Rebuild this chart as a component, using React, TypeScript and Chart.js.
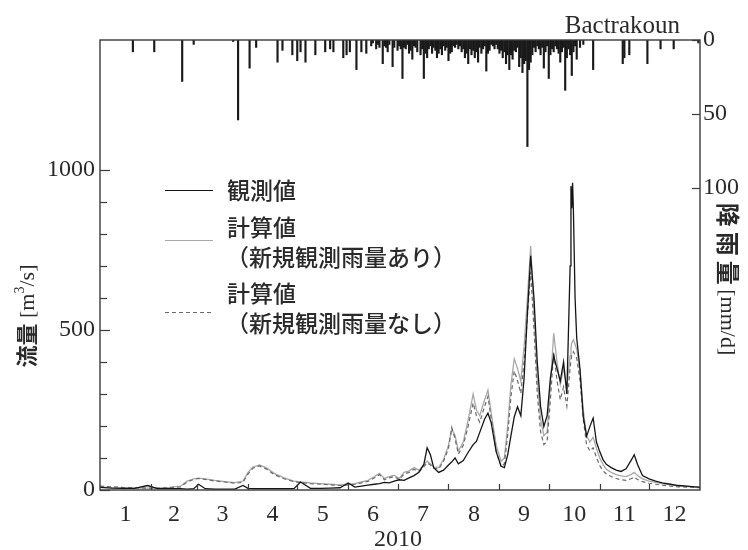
import React, { useEffect, useRef } from "react";
import { Chart, registerables } from "chart.js";

Chart.register(...registerables);

// ---- data ----
const monthLabels = ["1", "2", "3", "4", "5", "6", "7", "8", "9", "10", "11", "12"];
const monthStartDays = [0, 31, 59, 90, 120, 151, 181, 212, 243, 273, 304, 334, 365];
const monthMidDays = [15.5, 45, 74.5, 105, 135.5, 166, 196.5, 227.5, 258, 288.5, 319, 349.5];
const yearLabel = "2010";
const stationName = "Bactrakoun";

const flowTickValues = [0, 100, 200, 300, 400, 500, 600, 700, 800, 900, 1000];
const flowLabelValues = [0, 500, 1000];
const rainTickValues = [0, 50, 100];

const days = [
  0, 7, 14, 21, 29, 35, 42, 49, 53, 57,
  60, 64, 70, 76, 82, 87, 90, 93, 97, 101,
  106, 112, 118, 122, 128, 134, 140, 146, 151, 155,
  159, 163, 167, 170, 173, 176, 179, 182, 185, 188,
  191, 194, 197, 199, 201, 203, 206, 209, 212, 214,
  216, 218, 221, 224, 227, 229, 231, 234, 236, 238,
  241, 244, 246, 248, 250, 252, 254, 256, 258, 260,
  262, 264, 266, 268, 270, 272, 274, 276, 278, 280,
  282, 284, 286, 286.5, 287, 287.5, 288, 289, 290, 292, 294, 296, 298,
  300, 302, 304, 306, 308, 311, 314, 317, 320, 323,
  325, 327, 330, 334, 338, 342, 347, 352, 357, 362,
  365,
];

const observed = [
  8, 6, 5, 5, 14, 4, 4, 4, 3, 4,
  18, 4, 3, 3, 3, 14, 5, 4, 4, 4,
  4, 4, 4, 25, 5, 5, 6, 7, 22, 9,
  12, 15, 18, 20, 24, 22, 28, 32, 30, 38,
  45, 55, 80, 132, 110, 70, 55, 62, 78, 88,
  100, 82, 92, 118, 142, 152, 180, 222, 240, 210,
  120, 74, 70, 110, 170, 228, 260, 232, 350, 550,
  732, 600, 400, 262, 198, 232, 350, 418, 380, 340,
  400, 300, 700, 950, 880, 960, 870, 600, 475, 378, 228, 168, 198,
  225, 150, 120, 95, 80, 70, 62, 58, 66, 92,
  110, 80, 45, 35, 28, 22, 18, 14, 12, 10,
  9,
];

const calcWithNew = [
  10, 8, 7, 6, 6, 6, 8, 12, 28, 35,
  37, 35, 30, 26, 23, 28, 55, 72, 78, 70,
  52, 38, 28, 25, 22, 20, 18, 16, 18, 20,
  25, 30, 42, 52, 36, 42, 46, 36, 55, 60,
  70, 62, 78, 90, 82, 72, 70, 95, 140, 190,
  170, 122, 150, 220, 300, 250, 232, 282, 312, 240,
  140, 90, 100, 200, 330, 410, 380, 340, 450, 600,
  762, 560, 350, 222, 170, 180, 330, 490, 400, 330,
  380, 320, 420, 445, 460, 465, 470, 455, 440, 370, 250, 170, 150,
  165, 130, 100, 80, 65, 55, 48, 44, 42, 48,
  55, 45, 35, 28, 24, 20, 16, 13, 11, 9,
  8,
];

const calcWithoutNew = [
  12, 10, 8, 7, 6, 6, 7, 10, 25, 33,
  36, 33, 28, 25, 21, 24, 50, 68, 75, 66,
  48, 35, 26, 23, 20, 18, 16, 14, 16, 18,
  22, 27, 38, 48, 32, 38, 42, 32, 50, 55,
  65, 57, 72, 85, 78, 68, 65, 90, 130, 195,
  160, 112, 140, 200, 272, 232, 212, 262, 292, 222,
  122, 72, 82, 172, 292, 372, 342, 302, 402, 542,
  682, 502, 302, 182, 142, 152, 282, 432, 342, 282,
  322, 262, 382, 405, 422, 428, 432, 422, 412, 342, 222, 142, 122,
  132, 102, 76, 60, 50, 42, 36, 32, 30, 35,
  40, 33, 26, 21, 18, 15, 12, 10, 9, 8,
  7,
];

const rainDays = [
  20, 33, 50, 57, 81, 84, 91, 95, 108, 111,
  117, 120, 122, 125, 131, 137, 140, 142, 148, 150,
  152, 156, 159, 162, 165, 166, 168, 169, 170, 172,
  173, 174, 175, 176, 178, 179, 181, 182, 183, 184,
  185, 186, 187, 188, 189, 190, 191, 192, 193, 195,
  196, 197, 198, 199, 200, 201, 202, 203, 204, 205,
  206, 207, 208, 209, 210, 211, 212, 213, 214, 215,
  216, 217, 218, 219, 220, 221, 222, 223, 224, 225,
  226, 227, 228, 229, 230, 231, 232, 233, 234, 235,
  236, 237, 238, 239, 240, 241, 242, 243, 244, 245,
  246, 247, 248, 249, 250, 251, 252, 253, 254, 255,
  256, 257, 258, 259, 260, 261, 262, 263, 264, 265,
  266, 267, 268, 269, 270, 271, 272, 273, 274, 275,
  276, 277, 278, 279, 280, 281, 282, 283, 284, 285,
  286, 287, 288, 289, 290, 292, 294, 300, 318, 319,
  322, 333, 341, 349, 364,
];
const rainMm = [
  8, 8, 28, 3, 1, 54, 19, 5, 15, 7,
  10, 14, 8, 15, 10, 8, 6, 8, 12, 10,
  8, 20, 8, 9, 4, 2, 6, 3, 5, 16,
  4, 5, 8, 3, 18, 5, 7, 4, 6, 26,
  5, 6, 3, 9, 7, 13, 4, 5, 8, 10,
  6, 26, 9, 12, 6, 4, 9, 5, 7, 12,
  9, 6, 10, 4, 7, 5, 14, 9, 8, 4,
  5, 3, 6, 4, 8, 6, 12, 9, 16, 6,
  10, 7, 12, 8, 15, 5, 9, 6, 4, 21,
  9, 7, 3, 4, 6, 3, 6, 9, 7, 12,
  8, 16, 10, 20, 10, 13, 7, 8, 5, 18,
  12, 22, 16, 14, 72, 20, 15, 10, 5, 8,
  4, 6, 10, 5, 19, 8, 4, 26, 10, 6,
  8, 4, 6, 9, 15, 8, 5, 34, 12, 6,
  10, 24, 8, 4, 13, 5, 3, 20, 16, 12,
  10, 16, 6, 6, 2,
];

const legendTexts = [
  ["観測値"],
  ["計算値", "（新規観測雨量あり）"],
  ["計算値", "（新規観測雨量なし）"],
];

const SERIF = "'Liberation Serif', 'DejaVu Serif', serif";
const CJK = "'Noto Sans CJK JP', 'Noto Sans', sans-serif";
const OBS_COLOR = "#151515";
const NEW_COLOR = "#a8a8a8";
const OLD_COLOR = "#6a6a6a";

const decorPlugin = {
  id: "decor",
  afterDraw(chart: any) {
    const { ctx, chartArea: a, scales } = chart;
    ctx.save();
    ctx.strokeStyle = "#3a3a3a";
    ctx.lineWidth = 1.4;
    ctx.strokeRect(a.left, a.top, a.right - a.left, a.bottom - a.top);

    ctx.lineWidth = 1.2;
    for (const t of scales.y.ticks) {
      const py = Math.round(scales.y.getPixelForValue(t.value)) + 0.5;
      ctx.beginPath();
      ctx.moveTo(a.left, py);
      ctx.lineTo(a.left + (t.value % 500 === 0 ? 10 : 7), py);
      ctx.stroke();
    }
    for (const t of scales.y2.ticks) {
      const py = Math.round(scales.y2.getPixelForValue(t.value)) + 0.5;
      ctx.beginPath();
      ctx.moveTo(a.right, py);
      ctx.lineTo(a.right - 8, py);
      ctx.stroke();
    }
    for (let i = 1; i < monthStartDays.length - 1; i++) {
      const px = Math.round(scales.x.getPixelForValue(monthStartDays[i])) + 0.5;
      ctx.beginPath();
      ctx.moveTo(px, a.bottom);
      ctx.lineTo(px, a.bottom - 6);
      ctx.stroke();
    }

    ctx.fillStyle = "#2a2a2a";
    ctx.font = `24px ${SERIF}`;
    ctx.textAlign = "center";
    ctx.textBaseline = "middle";
    ctx.fillText(yearLabel, (a.left + a.right) / 2 - 2, 540);
    ctx.font = `25px ${SERIF}`;
    ctx.textAlign = "right";
    ctx.textBaseline = "alphabetic";
    ctx.fillText(stationName, a.right - 20, 33);

    // left axis title
    ctx.save();
    ctx.translate(27, 316);
    ctx.rotate(-Math.PI / 2);
    ctx.textAlign = "left";
    ctx.textBaseline = "middle";
    ctx.font = `bold 22px ${CJK}`;
    const p1 = "流量";
    const w1 = ctx.measureText(p1).width;
    ctx.font = `22px ${SERIF}`;
    const p2 = " [m";
    const w2 = ctx.measureText(p2).width;
    ctx.font = `14px ${SERIF}`;
    const p3 = "3";
    const w3 = ctx.measureText(p3).width;
    ctx.font = `22px ${SERIF}`;
    const p4 = "/s]";
    const w4 = ctx.measureText(p4).width;
    let sx = -(w1 + w2 + w3 + w4) / 2;
    ctx.font = `bold 22px ${CJK}`;
    ctx.fillText(p1, sx, 0);
    sx += w1;
    ctx.font = `22px ${SERIF}`;
    ctx.fillText(p2, sx, 1);
    sx += w2;
    ctx.font = `14px ${SERIF}`;
    ctx.fillText(p3, sx, -7);
    sx += w3;
    ctx.font = `22px ${SERIF}`;
    ctx.fillText(p4, sx, 1);
    ctx.restore();

    // right axis title
    ctx.save();
    ctx.translate(728, 280);
    ctx.rotate(Math.PI / 2);
    ctx.textAlign = "left";
    ctx.textBaseline = "middle";
    const rChars = ["降", "雨", "量"];
    const adv = 29;
    ctx.font = `22px ${SERIF}`;
    const rUnit = " [mm/d]";
    const wu = ctx.measureText(rUnit).width;
    let rx = -(adv * 3 + wu) / 2;
    ctx.font = `600 24px ${CJK}`;
    for (const c of rChars) {
      ctx.fillText(c, rx + 2, 0);
      rx += adv;
    }
    ctx.font = `22px ${SERIF}`;
    ctx.fillText(rUnit, rx - 4, 1);
    ctx.restore();

    // legend
    const lx0 = 165, lx1 = 213, tx = 227;
    ctx.textAlign = "left";
    ctx.textBaseline = "middle";
    ctx.font = `500 23px ${CJK}`;
    const rows = [
      { lineY: 190, color: OBS_COLOR, dash: [] as number[], lw: 1.2, textY: [190] },
      { lineY: 240, color: NEW_COLOR, dash: [] as number[], lw: 1.2, textY: [227, 257] },
      { lineY: 312, color: OLD_COLOR, dash: [4, 3], lw: 1.2, textY: [293, 323] },
    ];
    rows.forEach((r, i) => {
      ctx.beginPath();
      ctx.strokeStyle = r.color;
      ctx.lineWidth = r.lw;
      ctx.setLineDash(r.dash);
      ctx.moveTo(lx0, r.lineY + 0.5);
      ctx.lineTo(lx1, r.lineY + 0.5);
      ctx.stroke();
      ctx.setLineDash([]);
      legendTexts[i].forEach((s, j) => {
        ctx.fillText(s, j === 0 ? tx : tx - 1, r.textY[j]);
      });
    });
    ctx.restore();
  },
};

export default function App() {
  const ref = useRef<HTMLCanvasElement | null>(null);

  useEffect(() => {
    if (!ref.current) return;
    const toXY = (arr: number[]) => days.map((d, i) => ({ x: d, y: arr[i] }));
    const chart = new Chart(ref.current, {
      type: "line",
      data: {
        datasets: [
          {
            type: "line",
            label: "観測値",
            data: toXY(observed),
            borderColor: OBS_COLOR,
            borderWidth: 1.3,
            pointRadius: 0,
            tension: 0,
            yAxisID: "y",
            order: 0,
          },
          {
            type: "line",
            label: "計算値（新規観測雨量なし）",
            data: toXY(calcWithoutNew),
            borderColor: OLD_COLOR,
            borderWidth: 1.2,
            borderDash: [4, 3],
            pointRadius: 0,
            tension: 0,
            yAxisID: "y",
            order: 1,
          },
          {
            type: "line",
            label: "計算値（新規観測雨量あり）",
            data: toXY(calcWithNew),
            borderColor: NEW_COLOR,
            borderWidth: 1.3,
            pointRadius: 0,
            tension: 0,
            yAxisID: "y",
            order: 2,
          },
          {
            type: "bar",
            label: "降雨量",
            data: rainDays.map((d, i) => ({ x: d, y: rainMm[i] })),
            backgroundColor: "#1a1a1a",
            borderWidth: 0,
            barThickness: 1.5,
            grouped: false,
            yAxisID: "y2",
            order: 3,
          } as any,
        ],
      },
      options: {
        animation: false,
        responsive: false,
        maintainAspectRatio: false,
        layout: { padding: { top: 40, left: 0, right: 0, bottom: 0 } },
        plugins: { legend: { display: false }, tooltip: { enabled: false } },
        scales: {
          x: {
            type: "linear",
            min: 0,
            max: 365,
            offset: false,
            grid: { display: false, drawTicks: false },
            border: { display: false },
            afterBuildTicks: (s: any) => {
              s.ticks = monthMidDays.map((v) => ({ value: v }));
            },
            afterFit: (s: any) => {
              s.height = 60;
            },
            ticks: {
              autoSkip: false,
              maxRotation: 0,
              padding: 10,
              color: "#2a2a2a",
              font: { family: SERIF, size: 24 },
              callback: (_v: any, i: number) => monthLabels[i],
            },
          },
          y: {
            type: "linear",
            position: "left",
            min: 0,
            max: 1406,
            grid: { display: false, drawTicks: false },
            border: { display: false },
            afterBuildTicks: (s: any) => {
              s.ticks = flowTickValues.map((v) => ({ value: v }));
            },
            afterFit: (s: any) => {
              s.width = 100;
            },
            ticks: {
              autoSkip: false,
              padding: 5,
              color: "#2a2a2a",
              font: { family: SERIF, size: 24 },
              callback: (v: any) => (flowLabelValues.includes(v) ? String(v) : ""),
            },
          },
          y2: {
            type: "linear",
            position: "right",
            reverse: true,
            min: 0,
            max: 304,
            grid: { display: false, drawTicks: false },
            border: { display: false },
            afterBuildTicks: (s: any) => {
              s.ticks = rainTickValues.map((v) => ({ value: v }));
            },
            afterFit: (s: any) => {
              s.width = 48;
            },
            ticks: {
              autoSkip: false,
              padding: 3,
              color: "#2a2a2a",
              font: { family: SERIF, size: 24 },
              callback: (v: any) => String(v),
            },
          },
        },
      },
      plugins: [decorPlugin],
    } as any);
    return () => chart.destroy();
  }, []);

  return (
    <div style={{ position: "absolute", left: 0, top: 0, width: 748, height: 550, background: "#fff" }}>
      <canvas ref={ref} width={748} height={550} style={{ display: "block" }} />
    </div>
  );
}
